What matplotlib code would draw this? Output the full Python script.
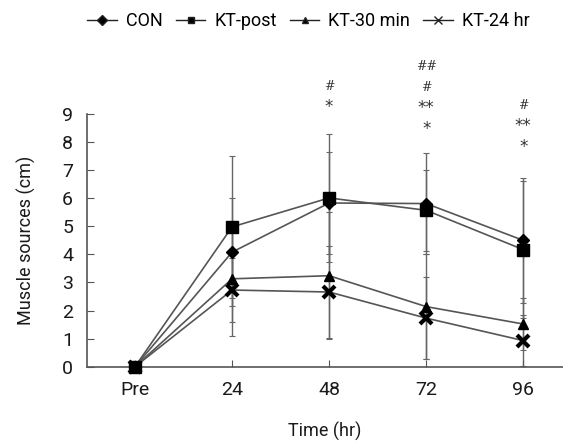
"""Muscle sources over time by group."""
import matplotlib
matplotlib.use("Agg")
import matplotlib.pyplot as plt
from matplotlib.lines import Line2D

plt.rcParams["font.family"] = ["Roboto", "DejaVu Sans"]

time_labels = ["Pre", "24", "48", "72", "96"]
groups = ["CON", "KT-post", "KT-30 min", "KT-24 hr"]

con = [0, 4.08, 5.83, 5.81, 4.50]
kt_post = [0, 4.98, 6.01, 5.57, 4.17]
kt_30 = [0, 3.13, 3.24, 2.14, 1.52]
kt_24 = [0, 2.73, 2.66, 1.73, 0.93]

con_sd = [0, 1.92, 1.80, 1.80, 2.22]
kt_post_sd = [0, 2.52, 2.27, 1.45, 2.45]
kt_30_sd = [0, 2.05, 2.26, 1.88, 0.92]
kt_24_sd = [0, 1.13, 1.64, 1.45, 0.92]

# significance marks stacked above each time point (bottom to top)
sig_marks = {2: ["*", "#"], 3: ["*", "**", "#", "##"], 4: ["*", "**", "#"]}
sig_base = {2: 9.24, 3: 8.45, 4: 7.81}


def main():
    fig = plt.figure(figsize=(5.63, 4.41), dpi=100)
    ax = fig.add_axes([0.1545, 0.1685, 0.8455, 0.573])

    x = list(range(len(time_labels)))
    series = [
        (kt_24, kt_24_sd, "x", 8, 3),
        (kt_30, kt_30_sd, "^", 7, 1),
        (con, con_sd, "D", 6, 1),
        (kt_post, kt_post_sd, "s", 8, 1),
    ]
    for vals, sd, mk, ms, mew in series:
        ax.errorbar(x[1:], vals[1:], yerr=sd[1:], fmt="none", ecolor="#666666",
                    elinewidth=1.0, capsize=2, capthick=0.8, zorder=1)
    for vals, sd, mk, ms, mew in series:
        ax.plot(x, vals, color="#555555", lw=1.2, marker=mk, ms=ms,
                mfc="black", mec="black", mew=mew, zorder=3, clip_on=False)

    for i, marks in sig_marks.items():
        for k, m in enumerate(marks):
            is_star = m.startswith("*")
            ax.text(x[i], sig_base[i] + k * 0.75, m, ha="center", va="center",
                    fontsize=12 if is_star else 9,
                    family=["DejaVu Sans" if is_star else "DejaVu Serif"],
                    style="normal" if is_star else "italic",
                    color="#333333", clip_on=False)

    ax.set_xlim(-0.495, 4.41)
    ax.set_ylim(0, 9)
    ax.set_xticks(x)
    ax.set_xticklabels(time_labels)
    ax.set_yticks(range(10))
    ax.tick_params(direction="in", length=5, labelsize=14, pad=10,
                   colors="#555555", labelcolor="#1a1a1a")
    for s in ["top", "right"]:
        ax.spines[s].set_visible(False)
    for s in ["left", "bottom"]:
        ax.spines[s].set_color("#555555")
        ax.spines[s].set_linewidth(1.2)

    ax.set_ylabel("Muscle sources (cm)", fontsize=13, color="#1a1a1a",
                  labelpad=19)
    ax.set_xlabel("Time (hr)", fontsize=13, color="#1a1a1a", labelpad=17)

    handles = [
        Line2D([], [], color="#222222", lw=1, marker="D", ms=5, mfc="black"),
        Line2D([], [], color="#222222", lw=1, marker="s", ms=5, mfc="black"),
        Line2D([], [], color="#222222", lw=1, marker="^", ms=5, mfc="black"),
        Line2D([], [], color="#222222", lw=1, marker="x", ms=6, mew=1),
    ]
    fig.legend(handles, groups, loc="center", bbox_to_anchor=(0.548, 0.952),
               ncol=4, frameon=False, fontsize=13, handlelength=1.65,
               handletextpad=0.5, columnspacing=0.7)

    fig.savefig("out.png", dpi=100)


if __name__ == "__main__":
    main()
